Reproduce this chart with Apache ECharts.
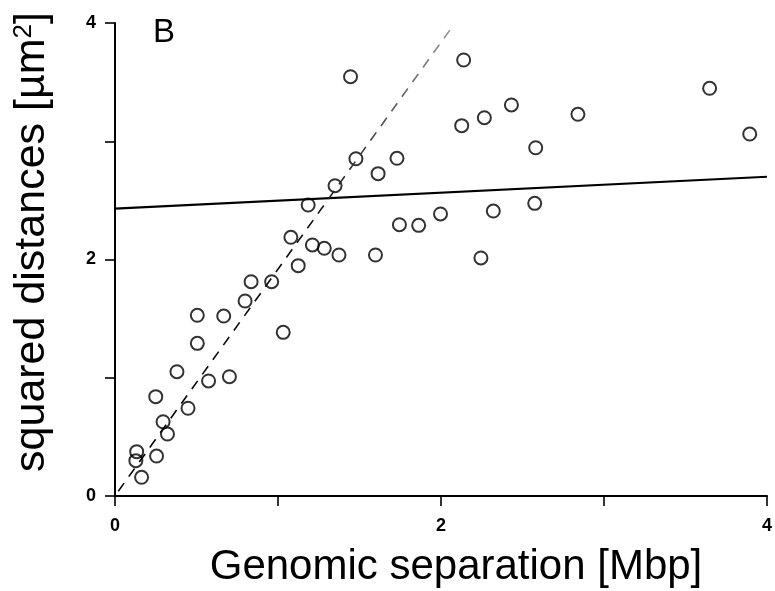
<!DOCTYPE html>
<html>
<head>
<meta charset="utf-8">
<script src="https://cdn.jsdelivr.net/npm/echarts@6/dist/echarts.min.js"></script>
<style>
html,body{margin:0;padding:0;background:#fff;}
#chart{width:775px;height:591px;}
</style>
</head>
<body>
<div id="chart"></div>
<script>
// Measured points (genomic separation [Mbp], squared distance [µm²])
const sepMbp = [0.133,0.128,0.163,0.255,0.250,0.295,0.322,0.380,0.448,0.505,0.505,0.574,0.667,0.702,0.798,0.835,0.961,1.032,1.079,1.124,1.185,1.211,1.284,1.350,1.374,1.445,1.478,1.614,1.598,1.730,1.745,1.863,1.997,2.127,2.139,2.245,2.266,2.321,2.432,2.581,2.575,2.840,3.648,3.894];
const sqDist = [0.375,0.299,0.158,0.338,0.840,0.628,0.524,1.051,0.742,1.291,1.528,0.973,1.522,1.009,1.649,1.812,1.812,1.384,2.188,1.948,2.461,2.123,2.095,2.624,2.038,3.546,2.852,2.726,2.038,2.856,2.294,2.289,2.385,3.132,3.687,2.013,3.199,2.410,3.307,2.945,2.475,3.228,3.448,3.061];

// Fitted lines (end points)
const dashedX = [0.02, 2.07];
const dashedY = [0.04, 3.97];
const solidX = [0, 4];
const solidY = [2.43, 2.70];

// Axis ticks
const xTicks = [0, 1, 2, 3, 4];
const xLabels = ['0', '', '2', '', '4'];
const yTicks = [0, 1, 2, 3, 4];
const yLabels = ['0', '', '2', '', '4'];

const panelLabel = 'B';
const xTitle = 'Genomic separation [Mbp]';
const yTitleMain = 'squared distances [µm';
const yTitleSup = '2';

const FONT = '"Liberation Sans", Arial, Helvetica, sans-serif';

const pts = sepMbp.map((x, i) => [x, sqDist[i]]);
const dashed = dashedX.map((x, i) => [x, dashedY[i]]);
const solid = solidX.map((x, i) => [x, solidY[i]]);

const chart = echarts.init(document.getElementById('chart'), null, {renderer: 'canvas'});

const axisCommon = {
  type: 'value',
  min: 0,
  max: 4,
  interval: 1,
  splitLine: {show: false},
  axisLine: {show: true, onZero: false, lineStyle: {color: '#000', width: 2}},
  axisTick: {show: true, inside: false, length: 10, lineStyle: {color: '#000', width: 1.6}},
};

chart.setOption({
  animation: false,
  backgroundColor: '#fff',
  grid: {left: 115, right: 5, top: 23, bottom: 95, containLabel: false},
  xAxis: Object.assign({}, axisCommon, {
    axisLabel: {
      margin: 21, color: '#000', fontSize: 18, fontWeight: 'bold', fontFamily: FONT,
      formatter: v => xLabels[xTicks.indexOf(Math.round(v))] || ''
    }
  }),
  yAxis: Object.assign({}, axisCommon, {
    axisLabel: {
      margin: 19, color: '#000', fontSize: 18, fontWeight: 'bold', fontFamily: FONT,
      formatter: v => yLabels[yTicks.indexOf(Math.round(v))] || ''
    }
  }),
  series: [
    {
      type: 'line', data: solid, symbol: 'none', silent: true,
      lineStyle: {color: '#000', width: 2.2}
    },
    {
      type: 'line', data: dashed, symbol: 'none', silent: true,
      lineStyle: {
        width: 1.6, type: [10, 8],
        color: {type: 'linear', x: 0, y: 1, x2: 0, y2: 0,
          colorStops: [{offset: 0, color: '#000'}, {offset: 0.6, color: '#111'}, {offset: 1, color: '#999'}]}
      }
    },
    {
      type: 'scatter', data: pts, symbol: 'circle', symbolSize: 13,
      itemStyle: {color: 'rgba(0,0,0,0)', borderColor: '#000', borderWidth: 2}
    }
  ],
  graphic: [
    {
      type: 'text', x: 153, y: 32.5,
      style: {text: panelLabel, font: '33px ' + FONT, fill: '#000', textAlign: 'left', textVerticalAlign: 'middle'}
    },
    {
      type: 'text', x: 456, y: 567,
      style: {text: xTitle, font: '42px ' + FONT, fill: '#000', textAlign: 'center', textVerticalAlign: 'middle'}
    },
    {
      type: 'text', x: 32, y: 242, rotation: Math.PI / 2,
      style: {
        text: yTitleMain + '{sup|' + yTitleSup + '}]',
        font: '43px ' + FONT, fill: '#000', textAlign: 'center', textVerticalAlign: 'middle',
        rich: {sup: {fontSize: 26, fontFamily: FONT, verticalAlign: 'top', fill: '#000'}}
      }
    }
  ]
});
</script>
</body>
</html>
